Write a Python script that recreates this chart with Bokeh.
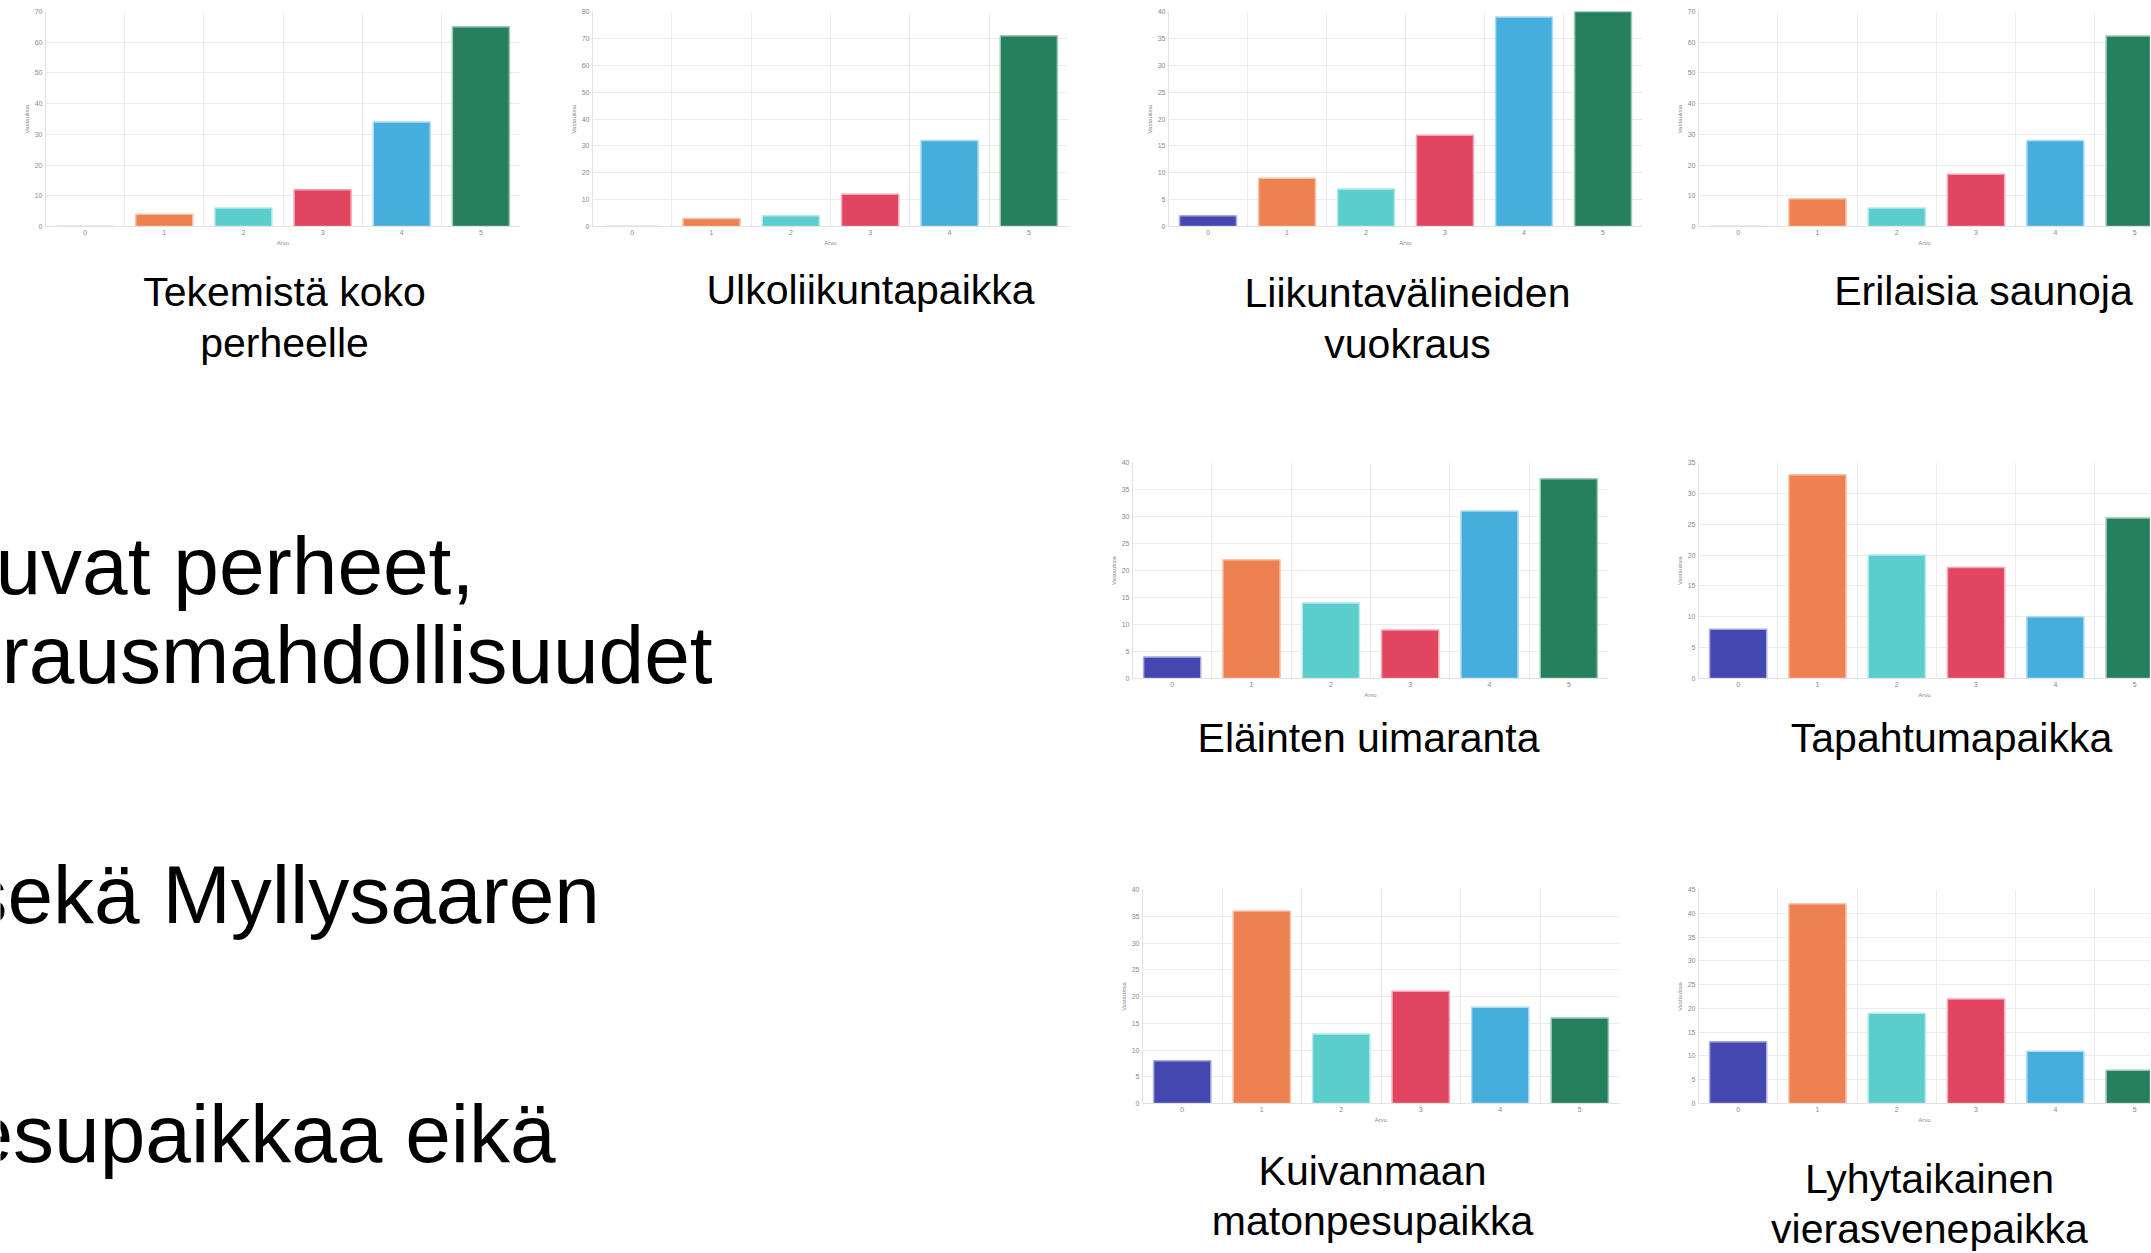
from bokeh.plotting import figure
from bokeh.layouts import row, column
from bokeh.models import ColumnDataSource, Range1d, FixedTicker, SingleIntervalTicker
from bokeh.core.properties import value
from bokeh.embed import file_html
from bokeh.resources import INLINE

# ---------------- data ----------------
categories = [0, 1, 2, 3, 4, 5]
tick_labels = ["0", "1", "2", "3", "4", "5"]
x_title = "Arvo"
y_title = "Vastauksia"

tekemista_koko_perheelle = [0, 4, 6, 12, 34, 65]
ulkoliikuntapaikka = [0, 3, 4, 12, 32, 71]
liikuntavalineiden_vuokraus = [2, 9, 7, 17, 39, 40]
erilaisia_saunoja = [0, 9, 6, 17, 28, 62]
elainten_uimaranta = [4, 22, 14, 9, 31, 37]
tapahtumapaikka = [8, 33, 20, 18, 10, 26]
kuivanmaan_matonpesupaikka = [8, 36, 13, 21, 18, 16]
lyhytaikainen_vierasvenepaikka = [13, 42, 19, 22, 11, 7]

bar_colors = ["#4547B0", "#EE8152", "#5BCDCD", "#E1455F", "#46AEDC", "#26805E"]
bar_edges = ["#A9AAE0", "#F8C2A8", "#B2EAEA", "#F2A6B4", "#AEDDF2", "#9CC9B7"]

captions_row1 = [["Tekemistä koko", "perheelle"], ["Ulkoliikuntapaikka"],
                 ["Liikuntavälineiden", "vuokraus"], ["Erilaisia saunoja"]]
captions_row2 = [["Eläinten uimaranta"], ["Tapahtumapaikka"]]
captions_row3 = [["Kuivanmaan", "matonpesupaikka"], ["Lyhytaikainen", "vierasvenepaikka"]]
body_lines = ["uvat perheet,", "rausmahdollisuudet", "sekä Myllysaaren", "esupaikkaa eikä"]

FONT = "Liberation Sans"


def make_chart(vals, ymax, ystep, w, h, bl, br, bt, bb, xend=5.5):
    p = figure(width=w, height=h, output_backend="svg", toolbar_location=None,
               x_range=Range1d(-0.5, xend), y_range=Range1d(0, ymax))
    p.min_border_left = bl
    p.min_border_right = br
    p.min_border_top = bt
    p.min_border_bottom = bb
    p.outline_line_color = None
    p.background_fill_color = "white"
    p.border_fill_color = "white"
    src = ColumnDataSource(dict(x=categories, top=vals, fill=bar_colors, edge=bar_edges))
    p.vbar(x="x", top="top", width=0.72, source=src, fill_color="fill",
           line_color="edge", line_width=1.5)
    p.xaxis.ticker = FixedTicker(ticks=categories)
    p.xaxis.major_label_overrides = {c: t for c, t in zip(categories, tick_labels)}
    p.yaxis.ticker = SingleIntervalTicker(interval=ystep, num_minor_ticks=0)
    p.xgrid.ticker = FixedTicker(ticks=[c - 0.5 for c in categories] + [5.5])
    p.ygrid.ticker = SingleIntervalTicker(interval=ystep, num_minor_ticks=0)
    for g in (p.xgrid, p.ygrid):
        g.grid_line_color = "#ececec"
        g.grid_line_width = 1
    for ax in (p.xaxis, p.yaxis):
        ax.axis_line_color = "#e2e2e2"
        ax.major_tick_line_color = None
        ax.minor_tick_line_color = None
        ax.major_tick_out = 0
        ax.major_tick_in = 0
        ax.major_label_text_font = FONT
        ax.major_label_text_font_size = "7px"
        ax.major_label_text_color = "#8a8a8a"
        ax.major_label_standoff = 3
        ax.axis_label_text_font = FONT
        ax.axis_label_text_font_size = "6px"
        ax.axis_label_text_font_style = "normal"
        ax.axis_label_text_color = "#8a8a8a"
        ax.axis_label_standoff = 2
    p.xaxis.axis_label = x_title
    p.yaxis.axis_label = y_title
    return p


def make_canvas(x0, x1, y0, y1):
    p = figure(width=x1 - x0, height=y1 - y0, output_backend="svg", toolbar_location=None,
               x_range=Range1d(x0, x1), y_range=Range1d(y1, y0),
               x_axis_type=None, y_axis_type=None)
    p.min_border = 0
    p.min_border_left = 0
    p.min_border_right = 0
    p.min_border_top = 0
    p.min_border_bottom = 0
    p.outline_line_color = None
    p.xgrid.visible = False
    p.ygrid.visible = False
    p.background_fill_color = "white"
    p.border_fill_color = "white"
    return p


def add_caption(p, cx, first_y, lines, size=41, gap=51):
    p.text(x=[cx] * len(lines), y=[first_y + i * gap for i in range(len(lines))],
           text=lines, text_font=value(FONT), text_font_size=f"{size}px",
           text_align="center", text_baseline="alphabetic", text_color="black")


W = 2150
H = 1252

# ---------------- row A: four charts ----------------
hA = 248
c1 = make_chart(tekemista_koko_perheelle, 70, 10, 555, hA, 45, 35, 11, 21)
c2 = make_chart(ulkoliikuntapaikka, 80, 10, 555, hA, 37, 42, 11, 21)
c3 = make_chart(liikuntavalineiden_vuokraus, 40, 5, 550, hA, 58, 18, 11, 21)
c4 = make_chart(erilaisia_saunoja, 70, 10, W - 1660, hA, 38, 0, 11, 21, xend=5.2)
rowA = row(c1, c2, c3, c4, spacing=0)

# ---------------- captions under row A ----------------
capA = make_canvas(0, W, 248, 452)
add_caption(capA, 284, 291, captions_row1[0])
add_caption(capA, 870, 289, captions_row1[1])
add_caption(capA, 1407, 292, captions_row1[2])
add_caption(capA, 1983, 290, captions_row1[3])

# ---------------- left body text ----------------
left = make_canvas(0, 1105, 452, H)
body_x = [-5, 1, -34, -33]
body_y = [565, 654, 894, 1133]
left.text(x=body_x, y=body_y, text=body_lines, text_font=value(FONT), text_font_size="82px",
          text_align="left", text_baseline="alphabetic", text_color="black")

# ---------------- right column ----------------
c5 = make_chart(elainten_uimaranta, 40, 5, 555, 248, 27, 52, 10, 22)
c6 = make_chart(tapahtumapaikka, 35, 5, W - 1660, 248, 38, 0, 10, 22, xend=5.2)
capB = make_canvas(1105, W, 700, 880)
add_caption(capB, 1368, 737, captions_row2[0])
add_caption(capB, 1951, 737, captions_row2[1])
c7 = make_chart(kuivanmaan_matonpesupaikka, 40, 5, 555, 245, 37, 41, 9, 20)
c8 = make_chart(lyhytaikainen_vierasvenepaikka, 45, 5, W - 1660, 245, 38, 0, 9, 20, xend=5.2)
capC = make_canvas(1105, W, 1125, H)
add_caption(capC, 1372, 1170, captions_row3[0], gap=50)
add_caption(capC, 1929, 1178, captions_row3[1], gap=50)

right = column(row(c5, c6, spacing=0), capB, row(c7, c8, spacing=0), capC, spacing=0)
rowC = row(left, right, spacing=0)

layout = column(rowA, capA, rowC, spacing=0)

open("out.html", "w").write(file_html(layout, INLINE))
